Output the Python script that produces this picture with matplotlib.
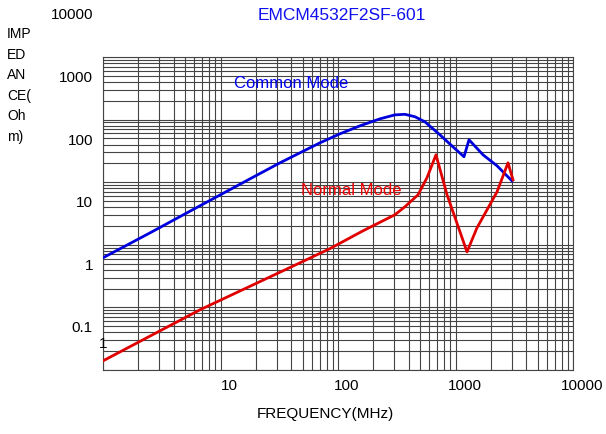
import matplotlib
matplotlib.use("Agg")
import matplotlib.pyplot as plt
import matplotlib.transforms as mtransforms
from matplotlib.ticker import LogLocator, NullFormatter

plt.rcParams["font.family"] = ["Liberation Sans", "DejaVu Sans"]

# impedance curves (MHz, ohm)
common_freq = [1.0, 2.51, 6.69, 17.8, 32.1, 47.5, 70.3, 104, 154, 228, 305, 371, 452, 550,
               738, 952, 1181, 1303, 1714, 2255, 3025]
common_imp = [0.62, 1.55, 4.2, 11.3, 20.4, 29.5, 42.6, 59.3, 79.6, 103, 119, 121.5, 111, 92,
              57, 36.7, 25.5, 47.6, 27.4, 18.3, 10.5]

normal_freq = [1.0, 6.69, 47.5, 85.5, 163, 305, 371, 480, 572, 682, 847, 1253, 1524, 2255, 2798, 3086]
normal_imp = [0.014, 0.0916, 0.516, 0.87, 1.67, 3.02, 4.05, 6.3, 11.8, 27.4, 6.3, 0.77, 1.87, 7.0, 20.4, 10.9]

x_ticks = [1, 10, 100, 1000, 10000]
x_ticklabels = ["1", "10", "100", "1000", "10000"]
y_ticks = [0.1, 1, 10, 100, 1000, 10000]
y_ticklabels = ["0.1", "1", "10", "100", "1000", "10000"]

title = "EMCM4532F2SF-601"
x_label = "FREQUENCY(MHz)"
y_label = "IMP\nED\nAN\nCE(\nOh\nm)"

fig = plt.figure(figsize=(6.06, 4.34), dpi=100)
ax = fig.add_axes([103 / 606, 64 / 434, 470 / 606, 313 / 434])
ax.set_xscale("log")
ax.set_yscale("log")
ax.set_xlim(1, 10000)
ax.set_ylim(0.01, 1000)

for axis in (ax.xaxis, ax.yaxis):
    axis.set_major_locator(LogLocator(base=10, numticks=20))
    axis.set_minor_locator(LogLocator(base=10, subs=range(2, 10), numticks=100))
    axis.set_minor_formatter(NullFormatter())
ax.grid(True, which="both", color="#444444", lw=0.8)
ax.tick_params(which="both", length=0, labelbottom=False, labelleft=False)
for sp in ax.spines.values():
    sp.set_color("#444444")
    sp.set_linewidth(0.8)

ax.plot(common_freq, common_imp, color="#0000dd", lw=2.0, zorder=3)
ax.plot(normal_freq, normal_imp, color="#e00000", lw=2.0, zorder=3)

# tick labels sit a little off the grid lines, as in the original sheet
ytrans = mtransforms.blended_transform_factory(ax.transAxes, ax.transData) + \
    mtransforms.ScaledTranslation(-0.10, -0.21, fig.dpi_scale_trans)
for v, s in zip(y_ticks, y_ticklabels):
    ax.text(0, v, s, transform=ytrans, ha="right", va="center", fontsize=11)

xtrans = mtransforms.blended_transform_factory(ax.transData, ax.transAxes)
for v, s in zip(x_ticks, x_ticklabels):
    if v == 1:
        off = mtransforms.ScaledTranslation(0.0, 0.26, fig.dpi_scale_trans)
    else:
        off = mtransforms.ScaledTranslation(0.09, -0.16, fig.dpi_scale_trans)
    ax.text(v, 0, s, transform=xtrans + off, ha="center", va="center", fontsize=11)

fig.text(342 / 606, 1 - 15 / 434, title, color="#1010ee", ha="center", va="center", fontsize=12.5)
fig.text(325 / 606, 1 - 414 / 434, x_label, ha="center", va="center", fontsize=11)
fig.text(7 / 606, 1 - 27 / 434, y_label, ha="left", va="top", fontsize=10, linespacing=1.6)

ax.text(40, 372, "Common Mode", color="#0000ee", ha="center", va="center", fontsize=12)
ax.text(129, 7.3, "Normal Mode", color="#ee0000", ha="center", va="center", fontsize=12)

fig.savefig("out.png", dpi=100)
